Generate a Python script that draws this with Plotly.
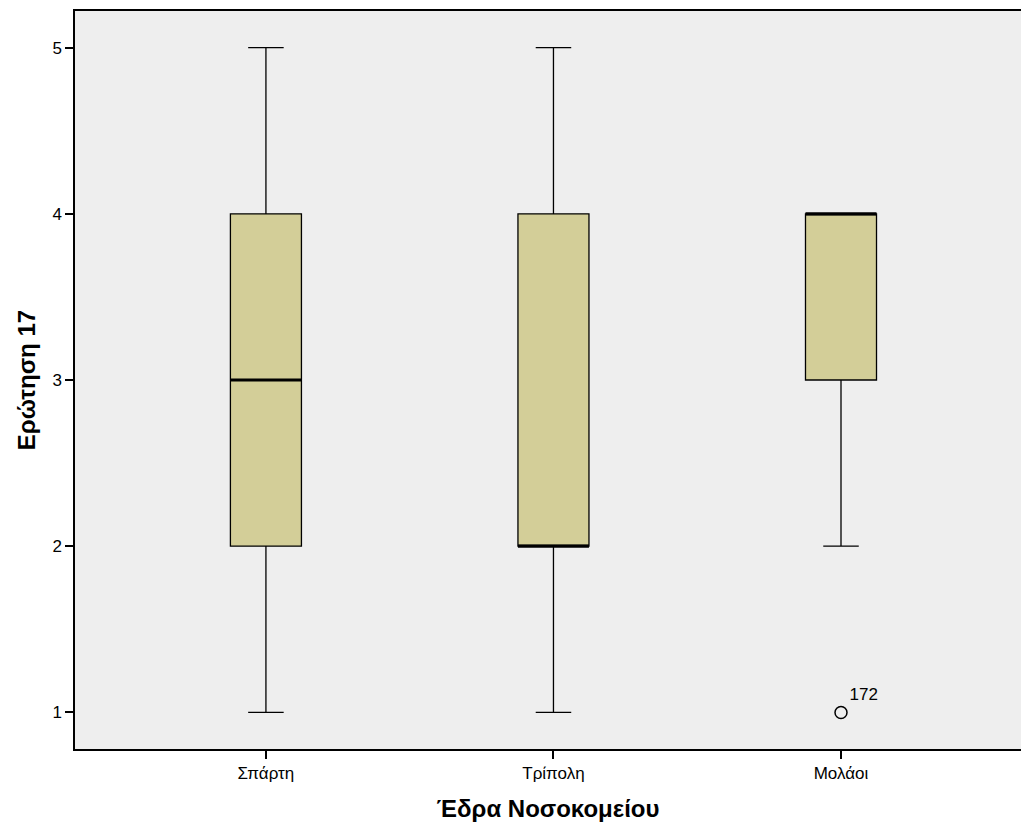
import plotly.graph_objects as go

categories = ["Σπάρτη", "Τρίπολη", "Μολάοι"]
lower_whisker = [1, 1, 2]
q1 = [2, 2, 3]
median = [3, 2, 4]
q3 = [4, 4, 4]
upper_whisker = [5, 5, 4]
outlier_cat = [2]
outlier_val = [1]
outlier_label = ["172"]

box_w = 0.247
pos = list(range(len(categories)))

fig = go.Figure()
fig.add_trace(go.Box(
    x=pos, q1=q1, median=median, q3=q3,
    lowerfence=lower_whisker, upperfence=upper_whisker,
    width=box_w, whiskerwidth=0.5,
    fillcolor="#D3CE98", line=dict(color="black", width=1.3),
    boxpoints=False, showlegend=False, hoverinfo="skip",
))
for i, m in zip(pos, median):
    fig.add_trace(go.Scatter(
        x=[i - box_w / 2, i + box_w / 2], y=[m, m], mode="lines",
        line=dict(color="black", width=3), showlegend=False, hoverinfo="skip",
    ))
fig.add_trace(go.Scatter(
    x=outlier_cat, y=outlier_val, mode="markers+text",
    marker=dict(symbol="circle-open", size=12, color="black", line=dict(width=1.5)),
    text=outlier_label, textposition="top right",
    textfont=dict(family="Liberation Sans, Arial", size=17, color="black"),
    showlegend=False, hoverinfo="skip",
))

fig.update_layout(
    width=1021, height=827,
    margin=dict(l=75, r=0, t=11, b=78),
    paper_bgcolor="white", plot_bgcolor="#EEEEEE",
    font=dict(family="Liberation Sans, Arial", size=17, color="black"),
)
fig.update_xaxes(
    range=[-0.664, 2.626], tickvals=pos, ticktext=categories,
    tickfont=dict(size=17),
    showline=True, linecolor="black", linewidth=1.5, mirror=True,
    ticks="outside", ticklen=8, tickwidth=2, tickcolor="black",
    showgrid=False, zeroline=False,
    title=dict(text="<b>Έδρα Νοσοκομείου</b>", font=dict(size=24), standoff=18),
)
fig.update_yaxes(
    range=[0.78, 5.22], tickvals=[1, 2, 3, 4, 5],
    tickfont=dict(size=17),
    showline=True, linecolor="black", linewidth=1.5,
    ticks="outside", ticklen=8, tickwidth=2, tickcolor="black",
    showgrid=False, zeroline=False,
    title=dict(text="<b>Ερώτηση 17</b>", font=dict(size=24), standoff=10),
)

fig.write_html("out.html")
